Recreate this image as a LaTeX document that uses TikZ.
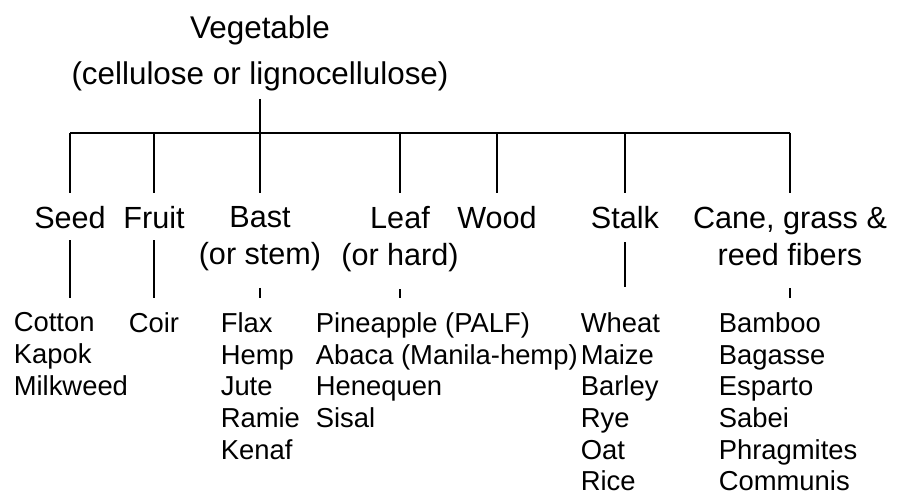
\documentclass[tikz,border=0pt]{standalone}
\usepackage{fontspec}
\setmainfont{Liberation Sans}
\begin{document}
\begin{tikzpicture}[x=0.5pt,y=-0.5pt,line width=0.8pt,
    top/.style={align=center,inner sep=0pt,anchor=north,font=\fontsize{15.7}{23}\selectfont},
    group/.style={align=center,inner sep=0pt,anchor=north,font=\fontsize{15.3}{18.5}\selectfont},
    fibres/.style={align=left,inner sep=0pt,anchor=north west,font=\fontsize{13.7}{15.8}\selectfont}]
  \useasboundingbox (0,0) rectangle (897,496);
  \node[top] (veg) at (260,15) {Vegetable\\(cellulose or lignocellulose)};
  \coordinate (hub) at (260,133);
  % classes
  \node[group] (seed) at (70,206) {Seed};
  \node[group] (fruit) at (154,206) {Fruit};
  \node[group] (bast) at (260,206) {Bast\\(or stem)};
  \node[group] (leaf) at (400,206) {Leaf\\(or hard)};
  \node[group] (wood) at (497,206) {Wood};
  \node[group] (stalk) at (625,206) {Stalk};
  \node[group] (cane) at (790,206) {Cane, grass \&\\reed fibers};
  % fibres
  \node[fibres] (seedl) at (13,312) {Cotton\\Kapok\\Milkweed};
  \node[fibres] (fruitl) at (128,312) {Coir};
  \node[fibres] (bastl) at (220,312) {Flax\\Hemp\\Jute\\Ramie\\Kenaf};
  \node[fibres] (leafl) at (315,312) {Pineapple (PALF)\\Abaca (Manila-hemp)\\Henequen\\Sisal};
  \node[fibres] (stalkl) at (580,312) {Wheat\\Maize\\Barley\\Rye\\Oat\\Rice};
  \node[fibres] (canel) at (718,312) {Bamboo\\Bagasse\\Esparto\\Sabei\\Phragmites\\Communis};
  % tree
  \draw[shorten <=3.5pt] (veg.south) -- (hub);
  \draw (seed.north |- hub) -- (cane.north |- hub);
  \foreach \n in {seed,fruit,bast,leaf,wood,stalk,cane}
    \draw[shorten >=6.5pt] (\n.north |- hub) -- (\n.north);
  \draw[shorten <=5pt,shorten >=7pt] (seed.south) -- (seed.south |- seedl.north);
  \draw[shorten <=5pt,shorten >=7pt] (fruit.south) -- (fruit.south |- fruitl.north);
  \draw[shorten <=8pt,shorten >=7pt] (bast.south) -- (bast.south |- bastl.north);
  \draw[shorten <=8pt,shorten >=7pt] (leaf.south) -- (leaf.south |- leafl.north);
  \draw[shorten <=6pt,shorten >=12.5pt] (stalk.south) -- (stalk.south |- stalkl.north);
  \draw[shorten <=11pt,shorten >=7pt] (cane.south) -- (cane.south |- canel.north);
\end{tikzpicture}
\end{document}
